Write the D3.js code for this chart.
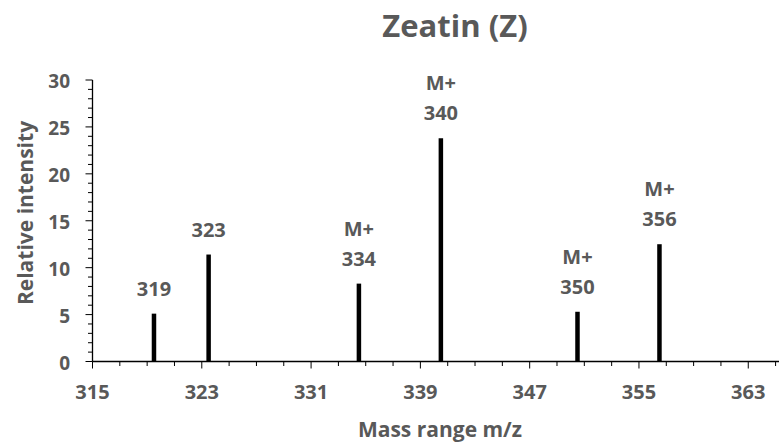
<!DOCTYPE html>
<html><head><meta charset="utf-8">
<script src="https://cdn.jsdelivr.net/npm/d3@7"></script>
<style>body{margin:0;background:#fff;} text{font-family:"Open Sans",sans-serif;font-weight:bold;fill:#595959;}</style>
</head><body>
<svg id="c" width="780" height="448"></svg>
<script>
const mz = [319, 323, 334, 340, 350, 356];
const intensity = [5.1, 11.4, 8.3, 23.8, 5.3, 12.5];
const labelTop = ["", "", "M+", "M+", "M+", "M+"];
const labelNum = ["319", "323", "334", "340", "350", "356"];
const xTickLabels = [315, 323, 331, 339, 347, 355, 363];
const yTickLabels = [0, 5, 10, 15, 20, 25, 30];

const svg = d3.select("#c");
const x = d3.scaleLinear().domain([315, 365.25]).range([92.5, 779]);
const y = d3.scaleLinear().domain([0, 30]).range([361.5, 80]);
const barOffset = 0.5;

// title
svg.append("text").attr("x", 455).attr("y", 37).attr("text-anchor", "middle")
  .style("font-size", "31px").text("Zeatin (Z)");

// x axis
const gx = svg.append("g").attr("transform", `translate(0,${y(0)})`);
gx.append("line").attr("x1", x(315)).attr("x2", 779).attr("stroke", "#000").attr("stroke-width", 1.3);
const xt = d3.range(315, 366, 2);
gx.selectAll("line.t").data(xt).join("line").attr("class", "t")
  .attr("x1", d => x(d)).attr("x2", d => x(d)).attr("y1", 0)
  .attr("y2", d => xTickLabels.includes(d) ? 7 : 4.5).attr("stroke", "#000").attr("stroke-width", 1);
gx.selectAll("text").data(xTickLabels).join("text")
  .attr("x", d => x(d)).attr("y", 37.5).attr("text-anchor", "middle").style("font-size", "20px").text(d => d);

// y axis
const gy = svg.append("g").attr("transform", `translate(${x(315)},0)`);
gy.append("line").attr("y1", y(0)).attr("y2", y(30)).attr("stroke", "#000").attr("stroke-width", 1.3);
const yt = d3.range(0, 31, 1);
gy.selectAll("line.t").data(yt).join("line").attr("class", "t")
  .attr("y1", d => y(d)).attr("y2", d => y(d)).attr("x1", 0)
  .attr("x2", d => d % 5 === 0 ? -7 : -4.5).attr("stroke", "#000").attr("stroke-width", 1);
gy.selectAll("text").data(yTickLabels).join("text")
  .attr("x", -22.5).attr("y", d => y(d) + 1.5).attr("dy", "0.35em").attr("text-anchor", "end")
  .style("font-size", "19px").text(d => d);

// axis titles
svg.append("text").attr("transform", "translate(33,213) rotate(-90)").attr("text-anchor", "middle")
  .style("font-size", "21px").text("Relative intensity");
svg.append("text").attr("x", 440).attr("y", 437).attr("text-anchor", "middle")
  .style("font-size", "21px").text("Mass range m/z");

// bars
svg.selectAll("line.bar").data(mz).join("line").attr("class", "bar")
  .attr("x1", d => x(d + barOffset)).attr("x2", d => x(d + barOffset))
  .attr("y1", y(0)).attr("y2", (d, i) => y(intensity[i]))
  .attr("stroke", "#000").attr("stroke-width", 4.5);

// labels
mz.forEach((d, i) => {
  const cx = x(d + barOffset), top = y(intensity[i]);
  svg.append("text").attr("x", cx).attr("y", top - 18).attr("text-anchor", "middle")
    .style("font-size", "20px").text(labelNum[i]);
  if (labelTop[i]) svg.append("text").attr("x", cx).attr("y", top - 48).attr("text-anchor", "middle")
    .style("font-size", "20px").text(labelTop[i]);
});
</script>
</body></html>
